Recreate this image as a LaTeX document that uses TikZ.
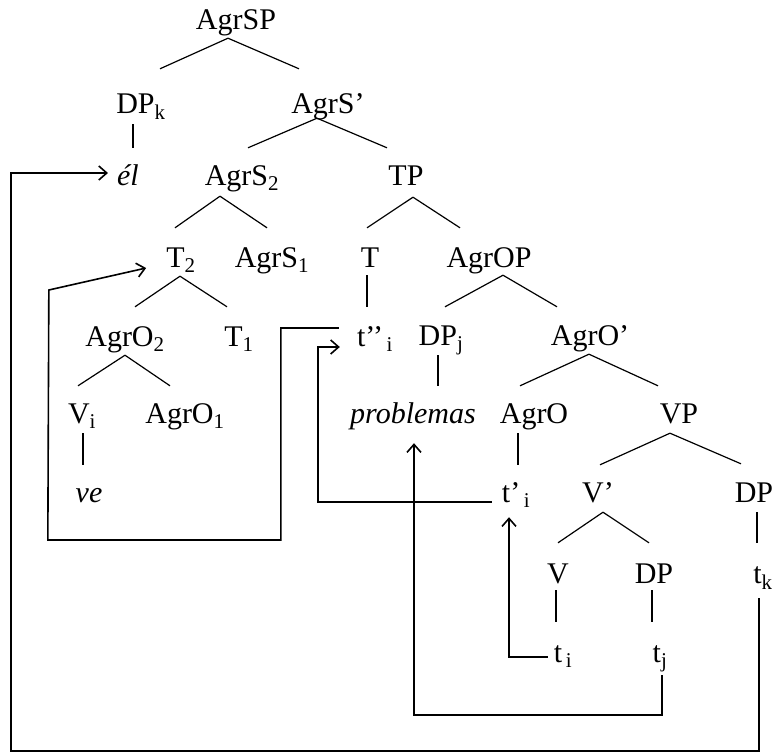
\documentclass[tikz,border=0pt]{standalone}
\usepackage{fontspec}
\setmainfont{Liberation Serif}
\usetikzlibrary{arrows.meta, calc}

\begin{document}
\begin{tikzpicture}[
  x=1pt, y=-1pt,
  every node/.style={anchor=base, inner sep=0pt, text height=21pt, text depth=7pt,
                     font=\fontsize{30}{36}\selectfont},
  branch/.style={line width=1.2pt},
  move/.style={line width=1.6pt, -{Straight Barb[length=8pt,width=14pt]}},
]
  \useasboundingbox (0,0) rectangle (774,753);
  \clip (0,0) rectangle (774,753);
  % labels of the tree
  \node (agrsp) at (236,29) {AgrSP};
  \node (dpk) at (141,113) {DP\textsubscript{k}};
  \node (agrsbar) at (328,113) {AgrS’};
  \node (el) at (128,185) {\textit{él}};
  \node (agrs2) at (242,185) {AgrS\textsubscript{2}};
  \node (tp) at (406,185) {TP};
  \node (t2) at (181,267) {T\textsubscript{2}};
  \node (agrs1) at (272,267) {AgrS\textsubscript{1}};
  \node (tnode) at (370,267) {T};
  \node (agrop) at (489,267) {AgrOP};
  \node (agro2) at (125,346) {AgrO\textsubscript{2}};
  \node (t1) at (239,346) {T\textsubscript{1}};
  \node (tii) at (375,346) {t’’\textsubscript{\,i}};
  \node (dpj) at (441,345) {DP\textsubscript{j}};
  \node (agrobar) at (590,345) {AgrO’};
  \node (vi) at (82,423) {V\textsubscript{i}};
  \node (agro1) at (185,423) {AgrO\textsubscript{1}};
  \node (problemas) at (413,423) {\textit{problemas}};
  \node (agro) at (534,423) {AgrO};
  \node (vp) at (679,423) {VP};
  \node (ve) at (89,502) {\textit{ve}};
  \node (ti1) at (516,502) {t’\textsubscript{\,i}};
  \node (vbar) at (598,502) {V’};
  \node (dpv) at (754,502) {DP};
  \node (vnode) at (558,583) {V};
  \node (dpo) at (654,583) {DP};
  \node (tk) at (763,583) {t\textsubscript{k}};
  \node (ti) at (563,662) {t\textsubscript{\,i}};
  \node (tj) at (660,662) {t\textsubscript{j}};

  % branches
  \draw[branch] ($(agrsp.south)+(-8,2)$) -- ($(dpk.north)+(19,-23)$);
  \draw[branch] ($(agrsp.south)+(-8,2)$) -- ($(agrsbar.north)+(-29,-23)$);
  \draw[branch] ($(dpk.south)+(-8,4)$) -- ($(el.north)+(5,-16)$);
  \draw[branch] ($(agrsbar.south)+(-11,-2)$) -- ($(agrs2.north)+(6,-16)$);
  \draw[branch] ($(agrsbar.south)+(-11,-2)$) -- ($(tp.north)+(-19,-16)$);
  \draw[branch] ($(agrs2.south)+(-22,4)$) -- ($(t2.north)+(-6,-18)$);
  \draw[branch] ($(agrs2.south)+(-22,4)$) -- ($(agrs1.north)+(-5,-18)$);
  \draw[branch] ($(tp.south)+(7,5)$) -- ($(tnode.north)+(-3,-18)$);
  \draw[branch] ($(tp.south)+(7,5)$) -- ($(agrop.north)+(-29,-18)$);
  \draw[branch] ($(t2.south)+(-1,2)$) -- ($(agro2.north)+(10,-18)$);
  \draw[branch] ($(t2.south)+(-1,2)$) -- ($(t1.north)+(-12,-18)$);
  \draw[branch] ($(tnode.south)+(-3,1)$) -- ($(tii.north)+(-8,-18)$);
  \draw[branch] ($(agrop.south)+(14,1)$) -- ($(dpj.north)+(4,-17)$);
  \draw[branch] ($(agrop.south)+(14,1)$) -- ($(agrobar.north)+(-33,-17)$);
  \draw[branch] ($(agro2.south)+(0,2)$) -- ($(vi.north)+(-4,-16)$);
  \draw[branch] ($(agro2.south)+(0,2)$) -- ($(agro1.north)+(-15,-16)$);
  \draw[branch] ($(dpj.south)+(-3,3)$) -- ($(problemas.north)+(25,-16)$);
  \draw[branch] ($(agrobar.south)+(-1,2)$) -- ($(agro.north)+(-14,-16)$);
  \draw[branch] ($(agrobar.south)+(-1,2)$) -- ($(vp.north)+(-21,-16)$);
  \draw[branch] ($(vi.south)+(1,3)$) -- ($(ve.north)+(-6,-16)$);
  \draw[branch] ($(agro.south)+(-16,3)$) -- ($(ti1.north)+(2,-16)$);
  \draw[branch] ($(vp.south)+(-9,3)$) -- ($(vbar.north)+(2,-16)$);
  \draw[branch] ($(vp.south)+(-9,3)$) -- ($(dpv.north)+(-13,-17)$);
  \draw[branch] ($(vbar.south)+(5,3)$) -- ($(vnode.north)+(0,-19)$);
  \draw[branch] ($(vbar.south)+(5,3)$) -- ($(dpo.north)+(-5,-19)$);
  \draw[branch] ($(dpv.south)+(3,3)$) -- ($(tk.north)+(-6,-19)$);
  \draw[branch] ($(vnode.south)+(-2,0)$) -- ($(ti.north)+(-7,-19)$);
  \draw[branch] ($(dpo.south)+(-2,0)$) -- ($(tj.north)+(-8,-19)$);

  % movement
  \draw[move] ($(tk.south)+(-4,8)$) -- ++(0,153) -- ++(-748,0) |- ($(el.west)+(-9,-5)$);
  \draw[move] ($(tj.south)+(2,6)$) -- ++(0,40) -| ($(problemas.south)+(1,13)$);
  \draw[move] ($(ti.west)+(-6,2)$) -| ($(ti1.south)+(-7,8)$);
  \draw[move] ($(ti1.west)+(-10,7)$) -- ++(-174,0) |- ($(tii.west)+(-17,8)$);
  \draw[move] ($(tii.west)+(-18,-11)$) -- ++(-58,0) -- ++(0,212) -- ++(-233,0)
    -- ++(1,-250) -- ($(t2.west)+(-20,8)$);
\end{tikzpicture}
\end{document}
